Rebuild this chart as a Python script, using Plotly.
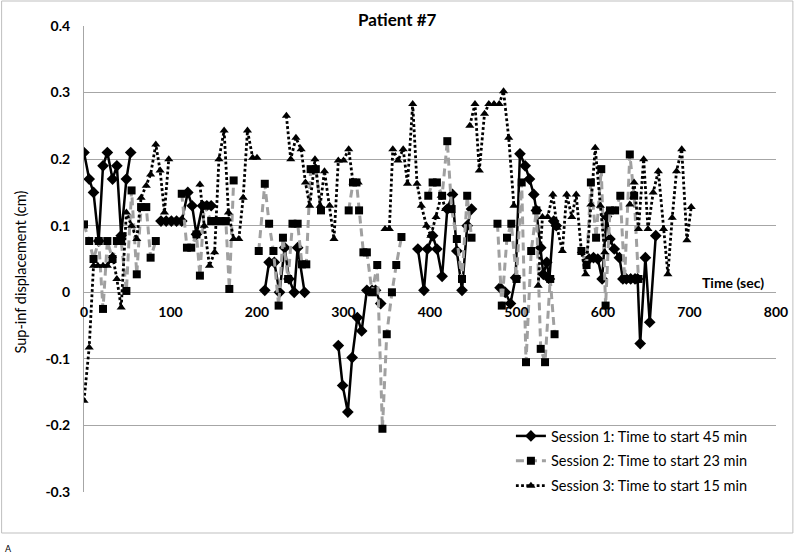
import plotly.graph_objects as go

# ---------------- data (time in sec, displacement in cm); None = gap ----------------
s1_time = [0, 6, 11, 17, 22, 27, 33, 38, 43, 49, 54,
           None,
           89, 95, 101, 107, 113, 120, 125, 130, 137, 142, 147,
           None,
           209, 214, 220, 226, 232, 237, 243, 247, 255,
           None,
           294, 299, 305, 310, 316, 321, 327, 333, 337, 343,
           None,
           386, 393, 397, 403, 408, 414, 420, 426, 431, 437, 443, 448,
           None,
           481, 487, 493, 499, 504, 510, 515, 520, 523, 528, 531, 535, 538, 543, 546,
           None,
           584, 589, 594, 599, 604, 608, 613, 619, 623, 627, 632, 637, 640, 643, 649, 654, 661]
s1_disp = [0.21, 0.17, 0.15, 0.077, 0.19, 0.21, 0.17, 0.19, 0.085, 0.17, 0.21,
           None,
           0.107, 0.107, 0.107, 0.107, 0.107, 0.15, 0.13, 0.087, 0.13, 0.13, 0.13,
           None,
           0.003, 0.045, 0.045, 0.0, 0.067, 0.02, 0.0, 0.067, 0.0,
           None,
           -0.08, -0.14, -0.18, -0.098, -0.038, -0.058, 0.003, 0.003, 0.003, -0.017,
           None,
           0.065, 0.003, 0.065, 0.085, 0.065, 0.024, 0.125, 0.147, 0.062, 0.003, 0.1, 0.125,
           None,
           0.007, 0.0, -0.017, 0.022, 0.208, 0.19, 0.17, 0.147, 0.123, 0.067, 0.027, 0.045, 0.02, 0.107, 0.1,
           None,
           0.05, 0.052, 0.05, 0.02, 0.114, 0.08, 0.065, 0.052, 0.02, 0.02, 0.02, 0.02, 0.02, -0.077, 0.052, -0.045, 0.085]

s2_time = [0, 6, 11, 17, 22, 27, 33, 38, 43, 49, 55, 61, 66, 72, 77, 83,
           None,
           113, 119, 124, 130, 134, 139, 147, 152, 158, 164, 168, 173,
           None,
           202, 209, 214, 219, 225, 230, 236, 241, 247, 252, 257, 262, 268, 274,
           None,
           306, 311, 315, 318, 323, 327, 333, 339, 345, 350, 356, 361, 367,
           None,
           398, 403, 408, 414, 420, 425, 431, 437, 443, 448,
           None,
           478, 483, 489, 494, 500, 506, 511, 517, 523, 528, 533, 539, 544,
           None,
           575, 581, 586, 592, 598, 603, 608, 614, 620, 625, 631, 636, 641]
s2_disp = [0.102, 0.077, 0.05, 0.077, -0.025, 0.077, 0.05, 0.077, 0.077, 0.002, 0.153, 0.027, 0.128, 0.128, 0.052, 0.077,
           None,
           0.148, 0.067, 0.067, 0.087, 0.025, 0.13, 0.107, 0.107, 0.107, 0.107, 0.005, 0.168,
           None,
           0.062, 0.163, 0.103, 0.062, -0.02, 0.082, 0.02, 0.103, 0.103, 0.042, 0.042, 0.185, 0.185, 0.123,
           None,
           0.123, 0.165, 0.165, 0.123, 0.06, 0.06, 0.0, 0.041, -0.205, -0.063, 0.0, 0.041, 0.083,
           None,
           0.145, 0.165, 0.165, 0.145, 0.227, 0.125, 0.08, 0.02, 0.145, 0.082,
           None,
           0.103, -0.02, 0.082, 0.103, 0.02, 0.165, -0.105, 0.062, 0.123, -0.085, -0.105, 0.02, -0.063,
           None,
           0.062, 0.041, 0.165, 0.082, 0.185, -0.02, 0.123, 0.123, 0.145, 0.02, 0.207, 0.145, 0.02]

s3_time = [0, 6, 11, 16, 22, 27, 33, 38, 43, 49, 55, 61, 66, 72, 77, 83, 88, 93, 98,
           None,
           134, 139, 145, 151, 156, 162, 167, 173, 179, 184, 189, 195, 200,
           None,
           234, 239, 245, 251, 256, 261, 267, 273, 278, 284, 289, 294, 300, 306, 311, 317,
           None,
           348, 353, 357, 363, 369, 374, 380, 385, 390, 396, 401, 407, 413, 418,
           None,
           446, 452, 457, 463, 468, 474, 480, 485, 491, 497,
           None,
           525, 530, 536, 542, 547, 553, 558, 564, 569, 575, 580, 586, 591, 597, 602,
           None,
           631, 636, 641, 647, 652, 658, 664, 670, 675, 680, 685, 691, 697, 702]
s3_disp = [-0.163, -0.083, 0.04, 0.04, 0.04, 0.04, 0.055, 0.02, -0.023, 0.12, 0.1, 0.08, 0.142, 0.16, 0.177, 0.222, 0.183, 0.12, 0.2,
           None,
           0.162, 0.1, 0.04, 0.06, 0.2, 0.243, 0.12, 0.08, 0.08, 0.142, 0.243, 0.202, 0.202,
           None,
           0.265, 0.2, 0.232, 0.215, 0.165, 0.13, 0.2, 0.13, 0.182, 0.13, 0.08, 0.198, 0.198, 0.215, 0.165, 0.165,
           None,
           0.095, 0.095, 0.215, 0.198, 0.215, 0.163, 0.283, 0.163, 0.13, 0.1, 0.085, 0.113, 0.145, 0.125,
           None,
           0.25, 0.283, 0.183, 0.268, 0.283, 0.283, 0.283, 0.302, 0.232, 0.13,
           None,
           0.01, 0.113, 0.113, 0.147, 0.097, 0.062, 0.147, 0.113, 0.147, 0.062, 0.027, 0.132, 0.217, 0.13, 0.06,
           None,
           0.132, 0.165, 0.095, 0.2, 0.095, 0.15, 0.182, 0.095, 0.027, 0.112, 0.182, 0.215, 0.078, 0.128]

series_names = ["Session 1: Time to start 45 min",
                "Session 2: Time to start 23 min",
                "Session 3: Time to start 15 min"]

x_ticks = [0, 100, 200, 300, 400, 500, 600, 700, 800]
y_ticks = [-0.3, -0.2, -0.1, 0, 0.1, 0.2, 0.3, 0.4]
y_tick_text = ["-0.3", "-0.2", "-0.1", "0", "0.1", "0.2", "0.3", "0.4"]

# ---------------- figure ----------------
W, H = 800, 558
ML, MR, MT, MB = 84, 19, 26, 66
plot_w = W - ML - MR
plot_h = H - MT - MB

def px_x(px):
    return (px - ML) / plot_w

def px_y(py):
    return (H - MB - py) / plot_h

FONT = "Lato, 'Open Sans', sans-serif"
GRID = "#a6a6a6"

fig = go.Figure()

fig.add_trace(go.Scatter(
    x=s1_time, y=s1_disp, mode="lines+markers", name=series_names[0],
    legendgroup="g1",
    line=dict(color="black", width=2.5),
    marker=dict(symbol="diamond", size=9, color="black"),
))
fig.add_trace(go.Scatter(
    x=s2_time, y=s2_disp, mode="lines+markers", name=series_names[1],
    legendgroup="g2",
    line=dict(color="#a0a0a0", width=3, dash="8px,5px"),
    marker=dict(symbol="square", size=8, color="black"),
))
fig.add_trace(go.Scatter(
    x=s3_time, y=s3_disp, mode="lines+markers", name=series_names[2],
    legendgroup="g3",
    line=dict(color="black", width=2.8, dash="2.8px,2.4px"),
    marker=dict(symbol="triangle-up", size=8, color="black"),
))

# position of y=0 inside the plotting area (fraction from bottom)
zero_frac = (0 - (-0.3)) / (0.4 - (-0.3))

fig.update_layout(
    width=W, height=H,
    margin=dict(l=ML, r=MR, t=MT, b=MB),
    paper_bgcolor="white", plot_bgcolor="white",
    font=dict(family=FONT, color="black", size=14),
    showlegend=True,
    legend=dict(
        x=px_x(514), y=px_y(420), xanchor="left", yanchor="top",
        bgcolor="rgba(255,255,255,0)", font=dict(size=14.5, family=FONT),
        tracegroupgap=3, itemwidth=30,
    ),
    xaxis=dict(
        range=[0, 800], tickvals=x_ticks, ticktext=[str(v) for v in x_ticks],
        showgrid=False, zeroline=False, showline=False,
        anchor="free", position=zero_frac,
        ticks="outside", ticklen=7, tickcolor="rgba(0,0,0,0)",
        tickfont=dict(size=14, family=FONT, weight="bold"),
    ),
    yaxis=dict(
        range=[-0.3, 0.4], tickvals=y_ticks, ticktext=y_tick_text,
        showgrid=True, gridcolor=GRID, gridwidth=1,
        zeroline=False, showline=True, linecolor=GRID, linewidth=1,
        ticks="outside", ticklen=10, tickcolor="rgba(0,0,0,0)",
        tickfont=dict(size=14, family=FONT, weight="bold"),
    ),
    annotations=[
        dict(text="<b>Patient #7</b>", xref="paper", yref="paper",
             x=px_x(400), y=px_y(20), xanchor="center", yanchor="middle",
             showarrow=False, font=dict(size=17, family=FONT)),
        dict(text="Sup-inf displacement (cm)", xref="paper", yref="paper",
             x=px_x(20), y=px_y(272), xanchor="center", yanchor="middle",
             textangle=-90, showarrow=False, font=dict(size=14.5, family=FONT)),
        dict(text="<b>Time (sec)</b>", xref="paper", yref="paper",
             x=px_x(771), y=px_y(283), xanchor="right", yanchor="middle",
             showarrow=False, font=dict(size=14, family=FONT)),
        dict(text="A", xref="paper", yref="paper",
             x=px_x(2), y=px_y(548), xanchor="left", yanchor="middle",
             showarrow=False, font=dict(size=9, family=FONT)),
    ],
    shapes=[
        dict(type="rect", xref="paper", yref="paper",
             x0=px_x(1), x1=px_x(798), y0=px_y(1), y1=px_y(533),
             line=dict(color="#bfbfbf", width=1), fillcolor="rgba(0,0,0,0)",
             layer="below"),
    ],
)

fig.write_html("out.html", config={"displayModeBar": False},
               post_script="document.body.style.margin='0px';")
